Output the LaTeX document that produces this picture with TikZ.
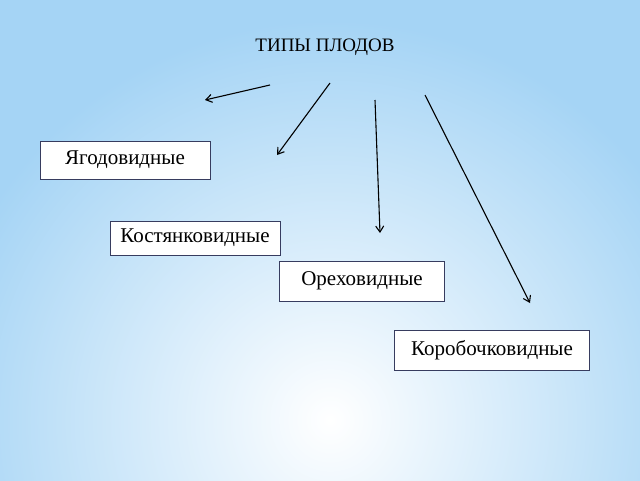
\documentclass[tikz,border=0pt]{standalone}
\usepackage{fontspec}
\setmainfont{Liberation Serif}
\usetikzlibrary{arrows.meta}
\definecolor{bgblue}{RGB}{165,212,245}
\definecolor{boxline}{RGB}{55,60,95}
\begin{document}
\begin{tikzpicture}
        [x=1pt,y=-1pt,
        typebox/.style={draw=boxline,fill=white,line width=1pt,minimum height=38pt,inner sep=2pt,font=\fontsize{21}{23}\selectfont},%
        arrowdecorate/.style={-{Straight Barb[length=6pt,width=8pt]},line width=1.1pt}]
        %% background
        \useasboundingbox (0,0) rectangle (640,480);
        \clip (0,0) rectangle (640,480);
        \fill[bgblue] (0,0) rectangle (640,480);
        \shade[inner color=white,outer color=bgblue] (330,420) circle (400);
        %% title and boxes
        \node (title) at (325,47) {\fontsize{19}{21}\selectfont ТИПЫ ПЛОДОВ};
        \node[typebox,minimum width=170pt] (berry) at (125,160) {Ягодовидные};
        \node[typebox,minimum width=170pt,minimum height=34pt] (drupe) at (195,238) {Костянковидные};
        \node[typebox,minimum width=165pt,minimum height=40pt] (nut) at (362,281) {Ореховидные};
        \node[typebox,minimum width=195pt,minimum height=40pt] (capsule) at (492,350) {Коробочковидные};
        %% arrow ends
        \foreach \name/\x/\y in {s1/270/85, e1/205/100, s2/330/83, e2/277/155,
          s3/375/100, e3/380/233, s4/425/95, e4/530/303}
        {
          \coordinate (\name) at (\x,\y);
        }
        %% arrows
        \foreach \i in {1,...,4}
        {
          \draw[arrowdecorate] (s\i) -- (e\i);
        }
      \end{tikzpicture}
\end{document}
